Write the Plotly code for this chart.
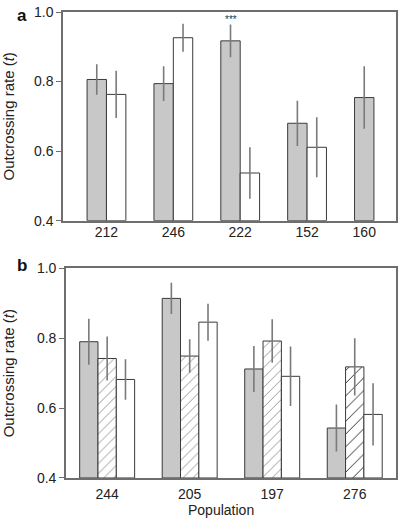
import numpy as np
import plotly.graph_objects as go

# ---------- data ----------
pops_a = ["212", "246", "222", "152", "160"]
gray_a = [0.806, 0.794, 0.917, 0.680, 0.754]
gray_a_err = [0.044, 0.050, 0.047, 0.065, 0.090]
white_a = [0.763, 0.926, 0.537, 0.611, None]
white_a_err = [0.068, 0.040, 0.074, 0.086, None]

pops_b = ["244", "205", "197", "276"]
gray_b = [0.790, 0.914, 0.712, 0.543]
gray_b_err = [0.066, 0.045, 0.066, 0.067]
hatch_b = [0.742, 0.749, 0.792, 0.718]
hatch_b_err = [0.063, 0.048, 0.062, 0.082]
white_b = [0.682, 0.846, 0.691, 0.582]
white_b_err = [0.058, 0.053, 0.085, 0.089]

yticks = [0.4, 0.6, 0.8, 1.0]
ytick_text = ["0.4", "0.6", "0.8", "1.0"]

# ---------- style ----------
GRAY = "#c8c8c8"
EDGE = "#3a3a3a"
ERRC = "#7a7a7a"
FRAME = "#6e6e6e"
TXT = "#222222"
FONT = "Liberation Sans, Arial, sans-serif"

fig = go.Figure()

# ---- panel a ----
wa = 0.29
xa = np.arange(len(pops_a))
# tick at centre of drawn bars in each group
tick_a = [x - wa / 2 if w is None else x for x, w in zip(xa, white_a)]


def err(vals):
    return dict(type="data", array=[0 if v is None else v for v in vals],
                visible=True, color=ERRC, thickness=1.6, width=0)


fig.add_trace(go.Bar(x=xa, y=[v - 0.4 for v in gray_a], base=0.4, width=wa, offset=-wa,
                     marker=dict(color=GRAY, line=dict(color=EDGE, width=1)),
                     error_y=err(gray_a_err), xaxis="x", yaxis="y", showlegend=False))
fig.add_trace(go.Bar(x=xa, y=[None if v is None else v - 0.4 for v in white_a], base=0.4,
                     width=wa, offset=0,
                     marker=dict(color="white", line=dict(color=EDGE, width=1)),
                     error_y=err(white_a_err), xaxis="x", yaxis="y", showlegend=False))

# ---- panel b ----
wb = 0.222
xb = np.arange(len(pops_b))
hatch_fg = ["#909090", "#909090", "#909090", "#1e1e1e"]
hatch_size = [7, 7, 7, 9]
hatch_sol = [0.13, 0.13, 0.13, 0.1]

fig.add_trace(go.Bar(x=xb, y=[v - 0.4 for v in gray_b], base=0.4, width=wb, offset=-1.5 * wb,
                     marker=dict(color=GRAY, line=dict(color=EDGE, width=1)),
                     error_y=err(gray_b_err), xaxis="x2", yaxis="y2", showlegend=False))
fig.add_trace(go.Bar(x=xb, y=[v - 0.4 for v in hatch_b], base=0.4, width=wb, offset=-0.5 * wb,
                     marker=dict(color="white", line=dict(color=EDGE, width=1),
                                 pattern=dict(shape="/", fgcolor=hatch_fg, bgcolor="white",
                                              size=hatch_size, solidity=hatch_sol,
                                              fillmode="replace")),
                     error_y=err(hatch_b_err), xaxis="x2", yaxis="y2", showlegend=False))
fig.add_trace(go.Bar(x=xb, y=[v - 0.4 for v in white_b], base=0.4, width=wb, offset=0.5 * wb,
                     marker=dict(color="white", line=dict(color=EDGE, width=1)),
                     error_y=err(white_b_err), xaxis="x2", yaxis="y2", showlegend=False))

# ---------- layout ----------
L, R, T, B = 53, 4, 9, 40
W, H = 402, 518
ph = H - T - B
pw = W - L - R

axis_common = dict(showline=True, linecolor=FRAME, linewidth=1.5, mirror=True,
                   showgrid=False, zeroline=False,
                   tickfont=dict(family=FONT, size=14, color=TXT))

ytitle = dict(text="Outcrossing rate (<i>t</i>)", font=dict(family=FONT, size=15, color=TXT),
              standoff=19)

fig.update_layout(
    width=W, height=H,
    margin=dict(l=L, r=R, t=T, b=B),
    paper_bgcolor="white", plot_bgcolor="white",
    barmode="overlay",
    font=dict(family=FONT, color=TXT),
    xaxis=dict(domain=[0, 1], anchor="y", range=[-0.65, 4.33],
               tickvals=tick_a, ticktext=pops_a, ticks="", ticklen=0,
               ticklabelstandoff=-2, **axis_common),
    yaxis=dict(domain=[1 - 210 / ph, 1], anchor="x", range=[0.4, 1.0],
               tickvals=yticks, ticktext=ytick_text, ticks="outside", ticklen=5,
               tickcolor=FRAME, tickwidth=1.2, title=ytitle, **axis_common),
    xaxis2=dict(domain=[3 / pw, 1], anchor="y2", range=[-0.5, 3.5],
                tickvals=list(xb), ticktext=pops_b, ticks="", ticklen=0,
                ticklabelstandoff=2, **axis_common),
    yaxis2=dict(domain=[0, 211 / ph], anchor="x2", range=[0.4, 1.0],
                tickvals=yticks, ticktext=ytick_text, ticks="outside", ticklen=5,
                tickcolor=FRAME, tickwidth=1.2, title=ytitle, **axis_common),
    annotations=[
        dict(text="<b>a</b>", xref="paper", yref="paper", x=(11 - L) / pw, y=(H - B - 13) / ph,
             showarrow=False, font=dict(family=FONT, size=17, color="#111"),
             xanchor="center", yanchor="middle"),
        dict(text="<b>b</b>", xref="paper", yref="paper", x=(11 - L) / pw, y=(H - B - 264) / ph,
             showarrow=False, font=dict(family=FONT, size=17, color="#111"),
             xanchor="center", yanchor="middle"),
        dict(text="***", xref="x", yref="y", x=xa[2] - wa / 2, y=0.978,
             showarrow=False, font=dict(family=FONT, size=10, color="#333"),
             xanchor="center", yanchor="middle"),
        dict(text="Population", xref="x2 domain", yref="paper", x=0.47, y=(H - B - 510) / ph,
             showarrow=False, font=dict(family=FONT, size=14, color=TXT),
             xanchor="center", yanchor="middle"),
    ],
)

# remove the default page margin so the figure fills the window exactly
fig.write_html("out.html", config={"displayModeBar": False},
               post_script="document.body.style.margin='0';")
